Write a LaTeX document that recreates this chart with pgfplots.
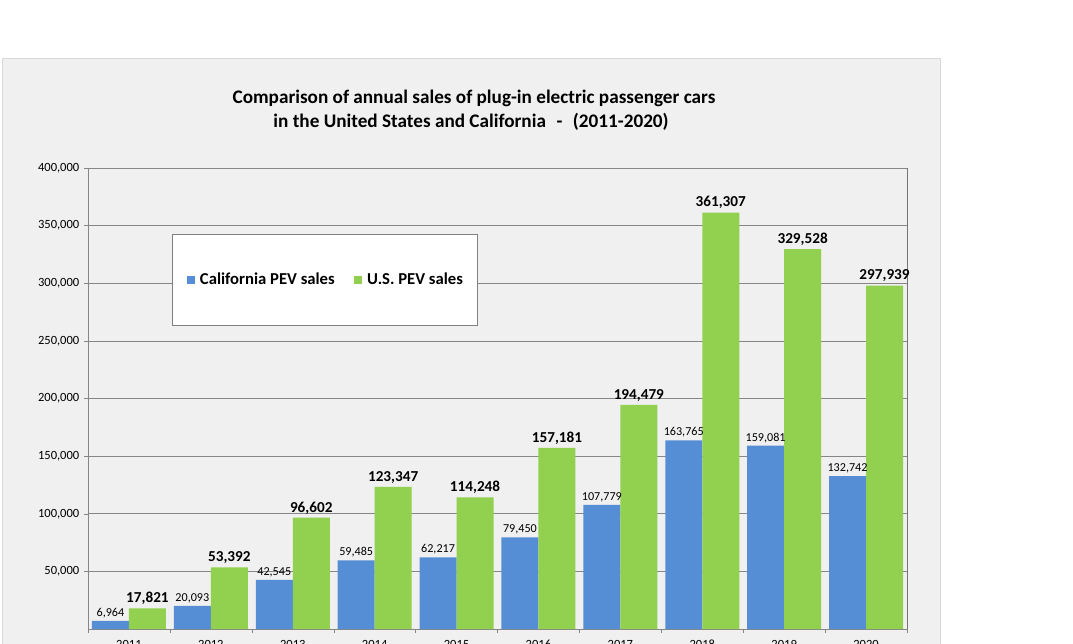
\documentclass[border=0pt]{standalone}
\usepackage{pgfplots}
\pgfplotsset{compat=1.18}
\usepackage{fontspec}
\setmainfont{Carlito}

\definecolor{cablue}{RGB}{85,142,213}
\definecolor{usgreen}{RGB}{146,208,80}
\definecolor{panel}{RGB}{240,240,240}
\definecolor{panelline}{RGB}{217,217,217}
\definecolor{gridgray}{RGB}{134,134,134}

\pgfkeys{/pgf/number format/assume math mode=true}

% 1 px of the reference = 0.75pt
\begin{document}
\begin{tikzpicture}
\useasboundingbox (0,0) rectangle (804.75pt,482.25pt);
\clip (0,0) rectangle (804.75pt,482.25pt);
\fill[white] (0,0) rectangle (804.75pt,482.25pt);
\draw[fill=panel, draw=panelline] (1.5pt,-10pt) rectangle (705pt,438.75pt);

\node[font=\bfseries\fontsize{14.4}{16}\selectfont] at (355.5pt,408.5pt)
  {Comparison of annual sales of plug-in electric passenger cars};
\node[font=\bfseries\fontsize{14.4}{16}\selectfont] at (353.25pt,391pt)
  {in the United States and California\hspace{0.55em}-\hspace{0.55em}(2011-2020)};

\begin{axis}[
    at={(66pt,10.5pt)}, anchor=south west,
    scale only axis,
    width=614.25pt, height=345.75pt,
    ybar,
    bar width=27.75pt,
    xmin=-0.5, xmax=9.5,
    ymin=0, ymax=400000,
    xtick={0,...,9},
    xticklabels={2011,2012,2013,2014,2015,2016,2017,2018,2019,2020},
    major x tick style={draw=none},
    minor xtick={-0.5,0.5,...,9.5},
    ytick={50000,100000,...,400000},
    ymajorgrids,
    grid style={gridgray},
    axis line style={gridgray},
    tick style={gridgray},
    tick align=outside,
    xtick pos=bottom, ytick pos=left,
    major tick length=3pt, minor tick length=3pt,
    scaled y ticks=false,
    yticklabel style={/pgf/number format/fixed, /pgf/number format/1000 sep={,},
        font=\fontsize{9.4}{11}\selectfont},
    xticklabel style={font=\fontsize{9.4}{11}\selectfont, yshift=-2pt},
    legend columns=2,
    legend style={at={(0.1026,0.857)}, anchor=north west,
        draw=gray, fill=white,
        font=\bfseries\fontsize{12.5}{14}\selectfont,
        inner xsep=11pt, inner ysep=29pt,
        nodes={inner sep=0pt},
        /tikz/every odd column/.append style={column sep=3.75pt},
        /tikz/every even column/.append style={column sep=14.5pt}},
]
\addplot[fill=cablue, draw=none, bar shift=-13.875pt,
    legend image code/.code={\fill[cablue] (0pt,-3pt) rectangle (6pt,3pt);},
    nodes near coords={\pgfmathprintnumber[fixed,precision=0,1000 sep={,}]{\pgfplotspointmeta}},
    nodes near coords style={font=\fontsize{9.1}{11}\selectfont, anchor=south, inner sep=2pt, text=black}]
coordinates {
    (0,6964) (1,20093) (2,42545) (3,59485) (4,62217)
    (5,79450) (6,107779) (7,163765) (8,159081) (9,132742)
};
\addlegendentry{California PEV sales}

\addplot[fill=usgreen, draw=none, bar shift=13.875pt,
    legend image code/.code={\fill[usgreen] (0pt,-3pt) rectangle (6pt,3pt);},
    nodes near coords={\pgfmathprintnumber[fixed,precision=0,1000 sep={,}]{\pgfplotspointmeta}},
    nodes near coords style={font=\bfseries\fontsize{11.4}{13}\selectfont, anchor=south, inner sep=2.5pt, text=black}]
coordinates {
    (0,17821) (1,53392) (2,96602) (3,123347) (4,114248)
    (5,157181) (6,194479) (7,361307) (8,329528) (9,297939)
};
\addlegendentry{U.S. PEV sales}

\draw[black] (rel axis cs:1,0) -- (rel axis cs:1,1);
\end{axis}
\end{tikzpicture}
\end{document}
